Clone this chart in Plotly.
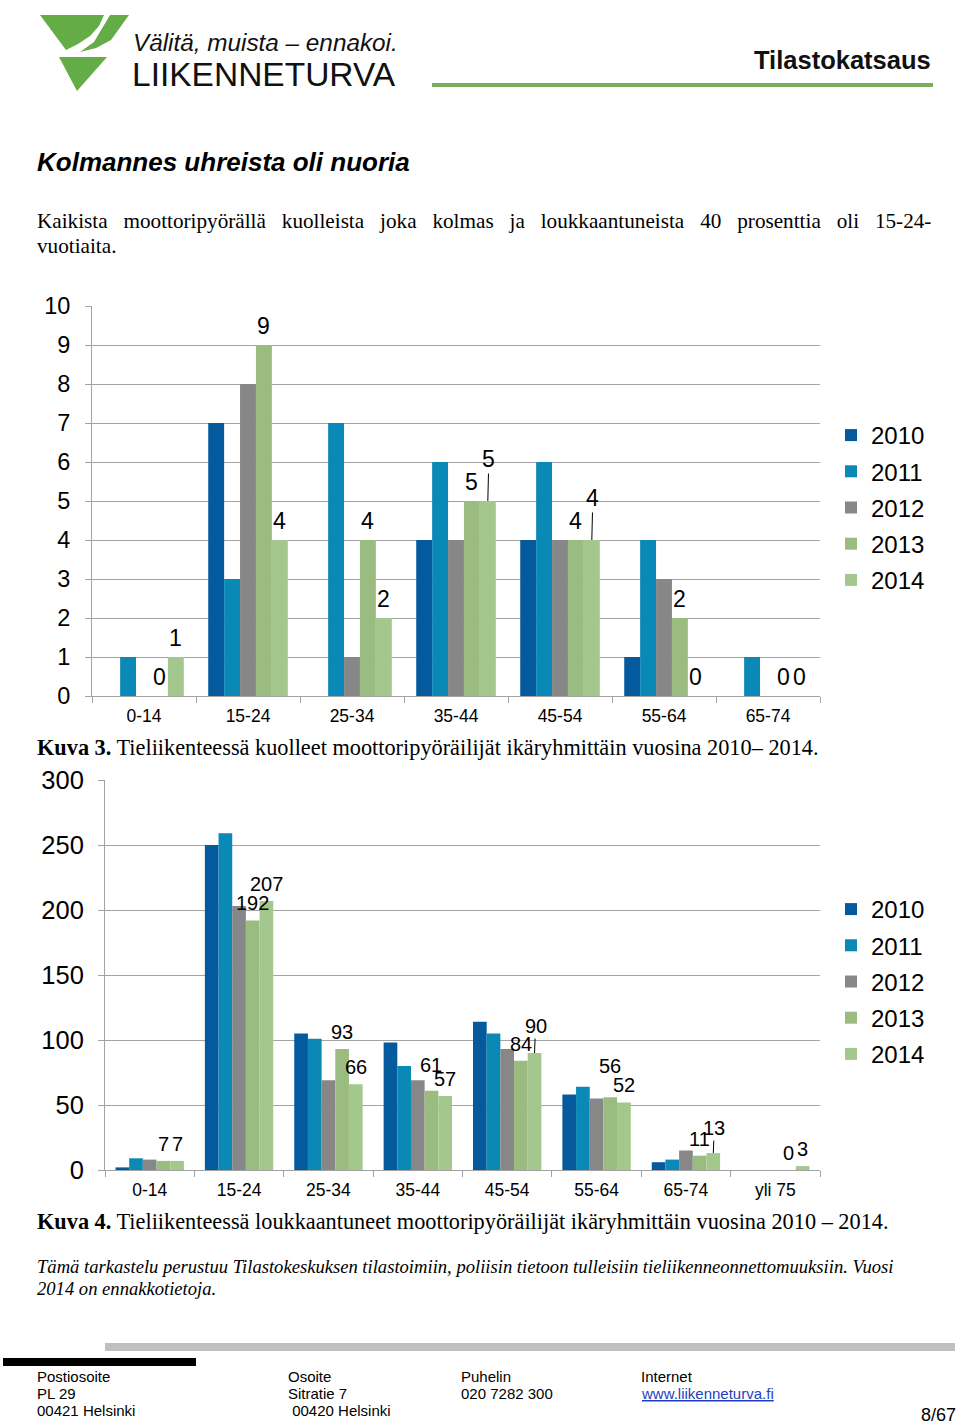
import plotly.graph_objects as go

W, H = 960, 1426

# ---------------- data ----------------
YEARS = ["2010", "2011", "2012", "2013", "2014"]
LABELLED_YEARS = ["2013", "2014"]

AGE1 = ["0-14", "15-24", "25-34", "35-44", "45-54", "55-64", "65-74"]
K_2010 = [0, 7, 0, 4, 4, 1, 0]
K_2011 = [1, 3, 7, 6, 6, 4, 1]
K_2012 = [0, 8, 1, 4, 4, 3, 0]
K_2013 = [0, 9, 4, 5, 4, 2, 0]
K_2014 = [1, 4, 2, 5, 4, 0, 0]

AGE2 = ["0-14", "15-24", "25-34", "35-44", "45-54", "55-64", "65-74", "yli 75"]
L_2010 = [2, 250, 105, 98, 114, 58, 6, 0]
L_2011 = [9, 259, 101, 80, 105, 64, 8, 0]
L_2012 = [8, 203, 69, 69, 93, 55, 15, 0]
L_2013 = [7, 192, 93, 61, 84, 56, 11, 0]
L_2014 = [7, 207, 66, 57, 90, 52, 13, 3]

Y1_TICKS = list(range(0, 11))
Y2_TICKS = [0, 50, 100, 150, 200, 250, 300]
Y2_GRID = [50, 100, 150, 200, 250]

# ---------------- style ----------------
COLORS = ["#045A9C", "#0A88B6", "#878787", "#9BBC80", "#A3C78D"]
GRID = "#A3A3A3"
SANS = "Liberation Sans, Arial, sans-serif"
SERIF = "Liberation Serif, Times New Roman, serif"
BARGAP = 0.235

# labels that Excel moved up: (pixels of label centre above bar top, leader line?)
LIFT1 = {("2014", "35-44"): (42, True), ("2014", "45-54"): (42, True)}
LIFT2 = {("2013", "35-44"): (26, False), ("2014", "45-54"): (27, True),
         ("2013", "55-64"): (31, False), ("2014", "65-74"): (25, True)}


def px(x):
    return x / W


def py(y):
    return 1 - y / H


fig = go.Figure()
annotations = []


def add_chart(cats, series, xa, ya, legend, lifts, label_size, label_up):
    bw = (1 - BARGAP) / len(series)
    font = dict(family=SANS, size=label_size, color="#000")
    for si, (year, vals) in enumerate(zip(YEARS, series)):
        fig.add_trace(go.Bar(
            x=cats, y=vals, name=year, marker_color=COLORS[si],
            marker_line_width=0, xaxis=xa, yaxis=ya, legend=legend,
            legendgroup=legend + year, hoverinfo="x+y+name",
        ))
        if year not in LABELLED_YEARS:
            continue
        for ci, (c, v) in enumerate(zip(cats, vals)):
            xpos = ci + (si - (len(series) - 1) / 2) * bw
            up, leader = lifts.get((year, c), (label_up, False))
            if leader:
                annotations.append(dict(
                    x=xpos, y=v, xref=xa, yref=ya, text=str(v),
                    showarrow=True, arrowhead=0, arrowwidth=1,
                    arrowcolor="#000", ax=1, ay=-up, standoff=0, font=font))
            else:
                annotations.append(dict(
                    x=xpos, y=v, xref=xa, yref=ya, text=str(v),
                    showarrow=False, yanchor="middle", yshift=up, font=font))


add_chart(AGE1, [K_2010, K_2011, K_2012, K_2013, K_2014], "x", "y", "legend",
          LIFT1, 23, 19.5)
add_chart(AGE2, [L_2010, L_2011, L_2012, L_2013, L_2014], "x2", "y2", "legend2",
          LIFT2, 20, 17)

xcommon = dict(type="category", showline=True, linecolor=GRID, linewidth=1,
               ticks="outside", tickson="boundaries", ticklen=6, tickcolor=GRID,
               tickfont=dict(family=SANS, size=17.5, color="#000"), showgrid=False,
               zeroline=False, fixedrange=True, ticklabelstandoff=4)
ycommon = dict(showline=True, linecolor=GRID, linewidth=1, ticks="outside",
               ticklen=6, tickcolor=GRID, gridcolor=GRID, gridwidth=1,
               zeroline=False, fixedrange=True)

fig.update_layout(
    xaxis=dict(xcommon, domain=[px(92), px(820)], anchor="y"),
    yaxis=dict(ycommon, domain=[py(696), py(306)], range=[0, 10],
               tickvals=Y1_TICKS, anchor="x", showgrid=True,
               ticklabelstandoff=10,
               tickfont=dict(family=SANS, size=23.5, color="#000")),
    xaxis2=dict(xcommon, domain=[px(105), px(820)], anchor="y2"),
    yaxis2=dict(ycommon, domain=[py(1170), py(780)], range=[0, 300],
                tickvals=Y2_TICKS, anchor="x2", showgrid=False,
                ticklabelstandoff=9,
                tickfont=dict(family=SANS, size=25.5, color="#000"),
                minor=dict(tickvals=Y2_GRID, showgrid=True, gridcolor=GRID,
                           gridwidth=1, ticks="")),
)

legend_common = dict(xanchor="left", yanchor="top", bgcolor="rgba(0,0,0,0)",
                     font=dict(family=SANS, size=24, color="#000"),
                     tracegroupgap=2, itemclick=False, itemdoubleclick=False)
fig.update_layout(
    legend=dict(legend_common, x=px(831), y=py(413)),
    legend2=dict(legend_common, x=px(831), y=py(887)),
)


# ---------------- page text ----------------
def txt(x, y, s, size, family=SERIF, color="#000", xanchor="left"):
    annotations.append(dict(x=px(x), y=py(y), xref="paper", yref="paper",
                            text=s, showarrow=False, xanchor=xanchor,
                            yanchor="middle", align="left",
                            font=dict(family=family, size=size, color=color)))


NB = "\u00a0"
txt(131, 42, "<i>Välitä, muista – ennakoi.</i>", 24.3, SANS, "#111")
txt(130, 74, "LIIKENNETURVA", 33.5, SANS, "#111")
txt(933, 60, "<b>Tilastokatsaus</b>", 25.5, SANS, "#111", xanchor="right")

txt(35, 162, "<b><i>Kolmannes uhreista oli nuoria</i></b>", 26, SANS)
words = ["Kaikista", "moottoripyörällä", "kuolleista", "joka", "kolmas", "ja",
         "loukkaantuneista", "40", "prosenttia", "oli", "15-24-"]
txt(35, 221, (" " + NB * 2).join(words), 21.2, SERIF)
txt(35, 246, "vuotiaita.", 21.2, SERIF)

txt(35, 747, "<b>Kuva 3.</b> Tieliikenteessä kuolleet moottoripyöräilijät ikäryhmittäin vuosina 2010– 2014.", 22.3, SERIF)
txt(35, 1221, "<b>Kuva 4.</b> Tieliikenteessä loukkaantuneet moottoripyöräilijät ikäryhmittäin vuosina 2010 – 2014.", 22.3, SERIF)
txt(35, 1266, "<i>Tämä tarkastelu perustuu Tilastokeskuksen tilastoimiin, poliisin tietoon tulleisiin tieliikenneonnettomuuksiin. Vuosi</i>", 18.6, SERIF)
txt(35, 1288, "<i>2014 on ennakkotietoja.</i>", 18.6, SERIF)

FOOT = 15
for x, lines in [(35, ["Postiosoite", "PL 29", "00421 Helsinki"]),
                 (286, ["Osoite", "Sitratie 7", NB + "00420 Helsinki"]),
                 (459, ["Puhelin", "020 7282 300"]),
                 (639, ["Internet", "<u>www.liikenneturva.fi</u>"])]:
    for i, s in enumerate(lines):
        col = "#1F3FC0" if "www" in s else "#000"
        txt(x, 1376 + 17 * i, s, FOOT, SANS, col)
txt(958, 1415, "8/67", 18, SANS, "#000", xanchor="right")

fig.update_layout(annotations=annotations)

# ---------------- decorative shapes ----------------
GREEN = "#64AC45"


def path(points):
    return "M" + " L".join(f"{px(a)},{py(b)}" for a, b in points) + " Z"


shapes = [
    dict(type="path", xref="paper", yref="paper", line_width=0, fillcolor=GREEN,
         path=path([(40, 15), (104, 15), (99, 26), (90, 36), (78, 44), (66, 50)])),
    dict(type="path", xref="paper", yref="paper", line_width=0, fillcolor=GREEN,
         path=path([(110, 15), (129, 15), (111, 40), (96, 48), (80, 52), (94, 42)])),
    dict(type="path", xref="paper", yref="paper", line_width=0, fillcolor=GREEN,
         path=path([(59, 57), (107, 57), (77, 91)])),
    dict(type="rect", xref="paper", yref="paper", line_width=0, fillcolor="#78AE5E",
         x0=px(432), x1=px(933), y0=py(87), y1=py(83)),
    dict(type="rect", xref="paper", yref="paper", line_width=0, fillcolor="#C0C0C0",
         x0=px(105), x1=px(955), y0=py(1351), y1=py(1343)),
    dict(type="rect", xref="paper", yref="paper", line_width=0, fillcolor="#000",
         x0=px(3), x1=px(196), y0=py(1366), y1=py(1358)),
]

fig.update_layout(
    shapes=shapes,
    width=W, height=H,
    margin=dict(l=0, r=0, t=0, b=0, pad=0, autoexpand=False),
    paper_bgcolor="#fff", plot_bgcolor="#fff",
    barmode="group", bargap=BARGAP, bargroupgap=0,
    showlegend=True,
)

fig.write_html("out.html", config={"displayModeBar": False},
               post_script="document.body.style.margin='0px';")
